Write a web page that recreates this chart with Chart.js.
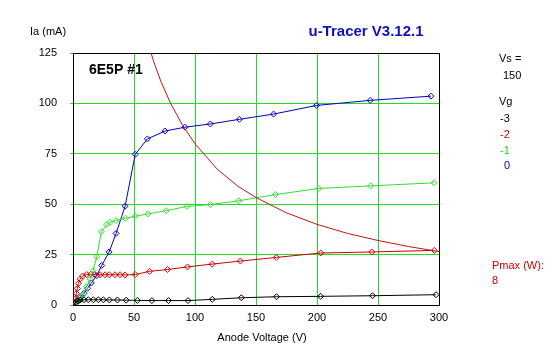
<!DOCTYPE html>
<html><head><meta charset="utf-8">
<script src="https://cdn.jsdelivr.net/npm/chart.js@4.4.1/dist/chart.umd.min.js"></script>
<style>html,body{margin:0;padding:0;background:#fff;}canvas{display:block;}</style>
</head><body>
<canvas id="c" width="547" height="357"></canvas>
<script>
// Data (Va in V, Ia in mA)
const xTicks = [0, 50, 100, 150, 200, 250, 300];
const yTicks = [0, 25, 50, 75, 100, 125];
const gridVoltages = ['-3', '-2', '-1', '0'];

const vgMinus3 = [[0,0],[2,1],[4,2],[6,2.5],[9,2.6],[12.6,2.6],[16.7,2.6],[20.8,2.6],[24.9,2.6],[29.8,2.5],[36.4,2.5],[43.6,2.4],[52.8,2.3],[64.7,2.2],[78.3,2.2],[94.3,2.2],[114.2,2.8],[138,3.6],[166.8,4.1],[203,4.3],[245.5,4.6],[297.5,5.1]];
const vgMinus2 = [[0,0],[1.5,1.5],[2.4,3.3],[2.8,5.8],[3.6,8.2],[4.4,10.7],[5.8,12.8],[7.9,14.4],[11.3,15.1],[14.5,15.3],[17.5,15.1],[22.2,15],[26.3,15],[29.8,15],[34.5,15],[38.6,15],[42.7,14.9],[51,15.1],[62.7,16.7],[77.5,17.6],[93.9,18.9],[114.2,20.3],[137.2,21.8],[166.6,23.6],[203,25.8],[244.9,26.3],[296.2,27.1]];
const vgMinus1 = [[0,0],[2,0.3],[5,2],[8,5],[11,9],[14,13],[16.5,17],[19.5,24],[23.3,36.3],[27.7,39.9],[30.4,41],[35.3,41.9],[43,43],[51,44],[61.5,45.2],[76.4,46.8],[93.4,48.9],[112.6,49.8],[135.9,51.7],[166,54.8],[201.6,57.8],[244,59.1],[295.9,60.6]];
const vg0 = [[0,0],[3,2],[5.8,3.7],[9,5.8],[12,8.3],[15,10.9],[19.5,14.6],[23.5,19.6],[29.6,26.3],[35.3,35.5],[42.7,49],[51,74.7],[61,82.4],[75.5,86.3],[91.8,88.2],[112.6,89.8],[136.4,92.1],[164.4,94.7],[199.7,99],[243.6,101.5],[293.4,103.6]];
const pmaxCurve = [[62,129],[66,121],[72,111],[80,100],[90,89],[100,80],[118,67.5],[135,59],[150,53.3],[175,45.7],[200,40],[225,35.5],[250,32],[275,29],[300,26.5]];
const supplyVoltage = '150';
const pmaxWatts = '8';

const toXY = a => a.map(p => ({x: p[0], y: p[1]}));
const GREEN_GRID = '#22dd22';
const FONT = '"Liberation Sans", Arial, sans-serif';

function series(data, color) {
  return {
    data: toXY(data), borderColor: color, backgroundColor: 'rgba(0,0,0,0)',
    borderWidth: 1, pointRadius: 3, pointStyle: 'rectRot', pointBorderWidth: 1,
    pointBorderColor: color, pointBackgroundColor: 'rgba(0,0,0,0)', tension: 0, showLine: true
  };
}

const framePlugin = {
  id: 'frame',
  beforeDatasetsDraw(chart) {
    const a = chart.chartArea, ctx = chart.ctx;
    ctx.save();
    ctx.strokeStyle = '#000'; ctx.lineWidth = 1;
    ctx.strokeRect(Math.round(a.left) + 0.5, Math.round(a.top) + 0.5, Math.round(a.right - a.left), Math.round(a.bottom - a.top));
    ctx.restore();
  },
  afterDraw(chart) {
    const ctx = chart.ctx;
    ctx.save();
    ctx.textBaseline = 'middle';
    ctx.textAlign = 'left';
    ctx.fillStyle = '#000';
    ctx.font = '11px ' + FONT;
    ctx.fillText('Ia (mA)', 30, 32);
    ctx.textAlign = 'center';
    ctx.fillText('Anode Voltage (V)', 262, 338);
    ctx.font = 'bold 15px ' + FONT;
    ctx.fillStyle = '#1010c0';
    ctx.fillText('u-Tracer V3.12.1', 366, 32);
    ctx.fillStyle = '#000';
    ctx.textAlign = 'left';
    ctx.font = 'bold 14px ' + FONT;
    ctx.fillText('6E5P #1', 89, 70);
    ctx.font = '11px ' + FONT;
    ctx.fillText('Vs =', 499, 59);
    ctx.fillText(supplyVoltage, 503, 76);
    ctx.fillText('Vg', 499, 102);
    const cols = ['#000000', '#cc0000', '#22cc22', '#0000b0'];
    const ys = [119, 135, 151, 166];
    gridVoltages.forEach((g, i) => {
      ctx.fillStyle = cols[i];
      ctx.fillText(g, g.startsWith('-') ? 500 : 504, ys[i]);
    });
    ctx.fillStyle = '#cc0000';
    ctx.fillText('Pmax (W):', 492, 266);
    ctx.fillText(pmaxWatts, 492, 281);
    ctx.restore();
  }
};

new Chart(document.getElementById('c'), {
  type: 'scatter',
  data: {
    datasets: [
      {data: toXY(pmaxCurve), borderColor: '#cc1010', borderWidth: 1, pointRadius: 0, showLine: true, tension: 0, fill: false},
      series(vgMinus3, '#000000'),
      series(vgMinus1, '#33dd33'),
      series(vgMinus2, '#cc0000'),
      series(vg0, '#0000c0')
    ]
  },
  options: {
    responsive: false, animation: false, devicePixelRatio: 1,
    layout: {padding: {top: 53, right: 108, left: 0, bottom: 0}},
    plugins: {legend: {display: false}, tooltip: {enabled: false}, title: {display: false}},
    scales: {
      x: {
        type: 'linear', min: 0, max: 300,
        afterBuildTicks: s => { s.ticks = xTicks.map(v => ({value: v})); },
        afterFit: s => { s.height = 52; },
        grid: {color: GREEN_GRID, lineWidth: 1, drawTicks: false},
        border: {display: false},
        ticks: {padding: 6, color: '#000', font: {size: 11, family: FONT}, maxRotation: 0}
      },
      y: {
        type: 'linear', min: 0, max: 125,
        afterBuildTicks: s => { s.ticks = yTicks.map(v => ({value: v})); },
        afterFit: s => { s.width = 73; },
        grid: {color: GREEN_GRID, lineWidth: 1, tickLength: 3, tickColor: GREEN_GRID},
        border: {display: false},
        ticks: {padding: 13, color: '#000', font: {size: 11, family: FONT}}
      }
    }
  },
  plugins: [framePlugin]
});
</script>
</body></html>
